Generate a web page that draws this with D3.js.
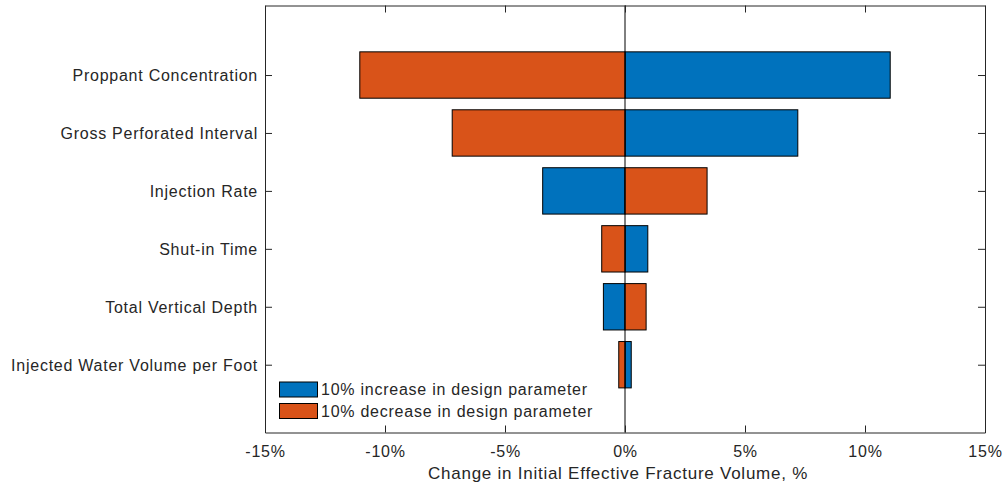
<!DOCTYPE html>
<html>
<head>
<meta charset="utf-8">
<script src="https://cdn.jsdelivr.net/npm/d3@7/dist/d3.min.js"></script>
<style>
  html, body { margin: 0; padding: 0; background: #fff; }
  svg { display: block; font-family: "Liberation Sans", Arial, Helvetica, sans-serif; }
</style>
</head>
<body>
<svg id="chart" width="1005" height="486"></svg>
<script>
// Tornado chart: sensitivity of initial effective fracture volume to design parameters
const parameters = [
  "Proppant Concentration",
  "Gross Perforated Interval",
  "Injection Rate",
  "Shut-in Time",
  "Total Vertical Depth",
  "Injected Water Volume per Foot"
];
// change (%) for a +10% change in each parameter
const increaseValues = [11.05, 7.2, -3.43, 0.95, -0.9, 0.26];
// change (%) for a -10% change in each parameter
const decreaseValues = [-11.05, -7.2, 3.42, -0.97, 0.88, -0.26];

const xTicks = [-15, -10, -5, 0, 5, 10, 15];
const seriesNames = [
  "10% increase in design parameter",
  "10% decrease in design parameter"
];
const seriesColors = ["#0072BD", "#D95319"];

const svg = d3.select("#chart");
const plot = { left: 265, right: 985, top: 5.5, bottom: 432.5 };
const axisColor = "#262626";
const textSpacing = "0.75px";

const x = d3.scaleLinear().domain([-15, 15]).range([plot.left, plot.right]);
// category i sits at position i+1; limits leave a margin above and below
const y = d3.scaleLinear().domain([-0.2, 7.17]).range([plot.top, plot.bottom]);
const barHalf = 0.4;

const g = svg.append("g");

// bars: one group per series
const series = [increaseValues, decreaseValues];
series.forEach((vals, si) => {
  g.append("g")
    .selectAll("rect")
    .data(vals)
    .join("rect")
    .attr("x", d => x(Math.min(0, d)))
    .attr("width", d => Math.abs(x(d) - x(0)))
    .attr("y", (d, i) => y(i + 1 - barHalf))
    .attr("height", y(1 + barHalf) - y(1 - barHalf))
    .attr("fill", seriesColors[si])
    .attr("stroke", "#000")
    .attr("stroke-width", 1);
});

// zero line
g.append("line")
  .attr("x1", x(0)).attr("x2", x(0))
  .attr("y1", plot.top).attr("y2", plot.bottom)
  .attr("stroke", "#000").attr("stroke-width", 1);

// axes (box with inward ticks on all four sides)
const tickLen = 7;
const fmt = d => d + "%";

const xBottom = d3.axisBottom(x).tickValues(xTicks).tickSizeInner(-tickLen).tickSizeOuter(0).tickPadding(13).tickFormat(fmt);
const xTop = d3.axisTop(x).tickValues(xTicks).tickSizeInner(-tickLen).tickSizeOuter(0).tickFormat("");
const catTicks = parameters.map((p, i) => i + 1);
const yLeft = d3.axisLeft(y).tickValues(catTicks).tickSizeInner(tickLen).tickSizeOuter(0).tickPadding(0)
  .tickFormat(d => parameters[d - 1]);
const yRight = d3.axisRight(y).tickValues(catTicks).tickSizeInner(-tickLen).tickSizeOuter(0).tickFormat("");

function styleAxis(sel) {
  sel.select(".domain").attr("stroke", axisColor);
  sel.selectAll(".tick line").attr("stroke", axisColor);
  sel.selectAll(".tick text").attr("fill", axisColor)
    .style("font-size", "16px")
    .style("letter-spacing", textSpacing)
    .style("font-family", "\"Liberation Sans\", Arial, sans-serif");
}

svg.append("g").attr("transform", `translate(0,${plot.bottom})`).call(xBottom).call(styleAxis);
svg.append("g").attr("transform", `translate(0,${plot.top})`).call(xTop).call(styleAxis);
const yl = svg.append("g").attr("transform", `translate(${plot.left},0)`).call(yLeft).call(styleAxis);
// left ticks point inward
yl.selectAll(".tick line").attr("x2", tickLen);
yl.selectAll(".tick text").attr("dy", "0.36em");
svg.append("g").attr("transform", `translate(${plot.right},0)`).call(yRight).call(styleAxis);

// x axis title
svg.append("text")
  .attr("x", 618)
  .attr("y", 479)
  .attr("text-anchor", "middle")
  .attr("fill", axisColor)
  .style("font-size", "17px")
  .style("letter-spacing", textSpacing)
  .text("Change in Initial Effective Fracture Volume, %");

// legend
const legend = svg.append("g").attr("transform", "translate(279,382)");
seriesNames.forEach((name, i) => {
  const row = legend.append("g").attr("transform", `translate(0,${i * 21.5})`);
  row.append("rect")
    .attr("x", 0.5).attr("y", 0)
    .attr("width", 38).attr("height", 15)
    .attr("fill", seriesColors[i])
    .attr("stroke", "#000").attr("stroke-width", 1);
  row.append("text")
    .attr("x", 42).attr("y", 13)
    .attr("fill", axisColor)
    .style("font-size", "16px")
    .style("letter-spacing", textSpacing)
    .text(name);
});
</script>
</body>
</html>
